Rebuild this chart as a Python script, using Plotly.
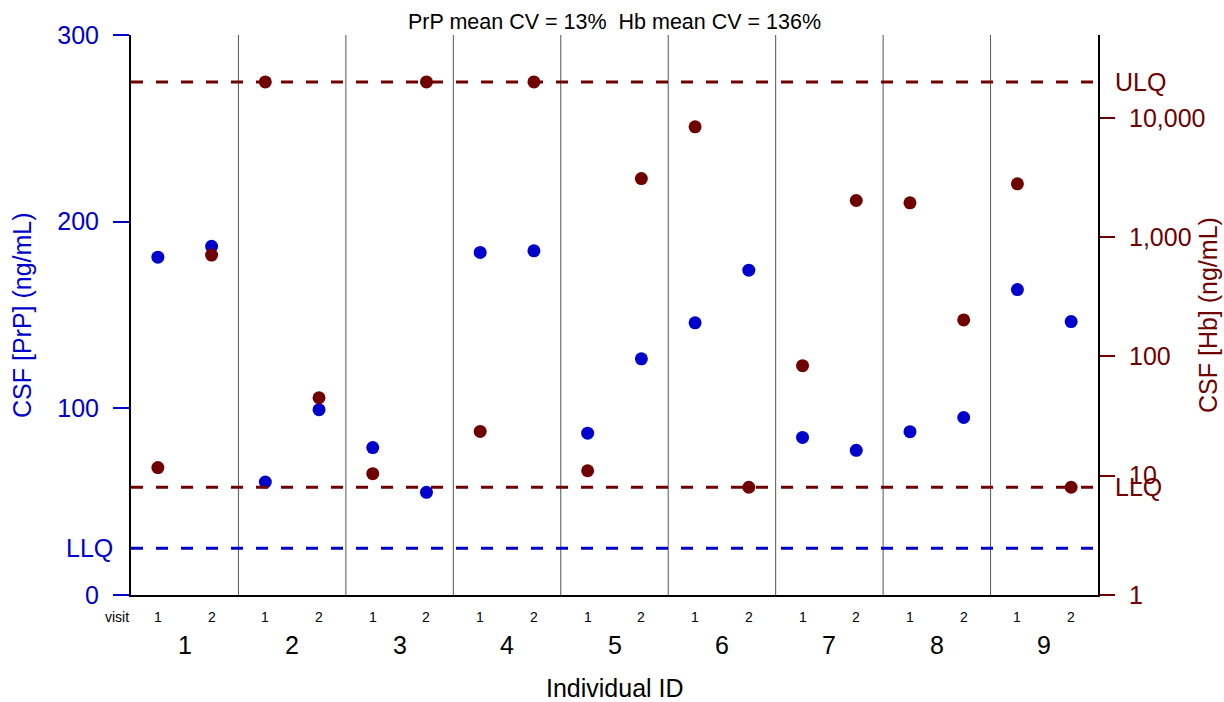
import math
import plotly.graph_objects as go

# ---- data ----
ids = [1, 2, 3, 4, 5, 6, 7, 8, 9]
visits = [1, 2]
prp_visit1 = [181, 60.5, 79, 183.5, 86.7, 145.8, 84.4, 87.5, 163.6]
prp_visit2 = [186.8, 99.3, 55, 184.4, 126.5, 174, 77.5, 95.1, 146.5]
hb_visit1 = [11.7, 20000, 10.4, 23.5, 11.0, 8400, 83.6, 1938, 2795]
hb_visit2 = [707, 45, 20000, 20000, 3097, 8, 2026, 202, 8]
prp_llq = 25
hb_llq = 8
hb_ulq = 20000
left_ticks = [0, 100, 200, 300]
right_ticks = [1, 10, 100, 1000, 10000]
right_ticktext = ["1", "10", "100", "1,000", "10,000"]
title_text = "PrP mean CV = 13%  Hb mean CV = 136%"

BLUE = "#0000CC"
RED = "#700000"
FONT = "Liberation Sans"

# x positions: individual i (0-based) -> visit1 at i+0.25, visit2 at i+0.75
x_pos = []
prp_vals = []
hb_vals = []
for i, _ in enumerate(ids):
    x_pos += [i + 0.25, i + 0.75]
    prp_vals += [prp_visit1[i], prp_visit2[i]]
    hb_vals += [hb_visit1[i], hb_visit2[i]]

fig = go.Figure()
fig.add_trace(go.Scatter(x=x_pos, y=prp_vals, mode="markers",
                         marker=dict(color=BLUE, size=13, line=dict(width=0)),
                         yaxis="y", showlegend=False))
fig.add_trace(go.Scatter(x=x_pos, y=hb_vals, mode="markers",
                         marker=dict(color=RED, size=13, line=dict(width=0)),
                         yaxis="y2", showlegend=False))

shapes = []
# separators between individuals
for i in range(1, len(ids)):
    shapes.append(dict(type="line", xref="x", yref="paper", x0=i, x1=i, y0=0, y1=1,
                       line=dict(color="#555555", width=1), layer="below"))
# reference lines
shapes.append(dict(type="line", xref="x", yref="y", x0=0, x1=len(ids), y0=prp_llq, y1=prp_llq,
                   line=dict(color=BLUE, width=3, dash="12px,13px")))
shapes.append(dict(type="line", xref="x", yref="y2", x0=0, x1=len(ids), y0=hb_llq, y1=hb_llq,
                   line=dict(color=RED, width=3, dash="12px,13px")))
shapes.append(dict(type="line", xref="x", yref="y2", x0=0, x1=len(ids), y0=hb_ulq, y1=hb_ulq,
                   line=dict(color=RED, width=3, dash="12px,13px")))

ann = []
# visit labels and individual IDs
for i, pid in enumerate(ids):
    for j, v in enumerate(visits):
        ann.append(dict(x=i + 0.25 + 0.5 * j, y=0, xref="x", yref="paper", text=str(v),
                        showarrow=False, yanchor="middle", yshift=-22,
                        font=dict(family=FONT, size=14, color="black")))
    ann.append(dict(x=i + 0.5, y=0, xref="x", yref="paper", text=str(pid),
                    showarrow=False, yanchor="middle", yshift=-50,
                    font=dict(family=FONT, size=25, color="black")))
ann.append(dict(x=0, y=0, xref="paper", yref="paper", text="visit", showarrow=False,
                xanchor="right", yanchor="middle", yshift=-22,
                font=dict(family=FONT, size=14, color="black")))
ann.append(dict(x=0.5, y=0, xref="paper", yref="paper", text="Individual ID", showarrow=False,
                yanchor="middle", yshift=-93, font=dict(family=FONT, size=25, color="black")))
ann.append(dict(x=0.5, y=1, xref="paper", yref="paper", text=title_text, showarrow=False,
                yanchor="middle", yshift=13, font=dict(family=FONT, size=21.5, color="black")))
# axis titles
ann.append(dict(x=0, y=0.5, xref="paper", yref="paper", text="CSF [PrP] (ng/mL)", showarrow=False,
                textangle=-90, xanchor="center", yanchor="middle", xshift=-109,
                font=dict(family=FONT, size=25, color=BLUE)))
ann.append(dict(x=1, y=0.5, xref="paper", yref="paper", text="CSF [Hb] (ng/mL)", showarrow=False,
                textangle=-90, xanchor="center", yanchor="middle", xshift=110,
                font=dict(family=FONT, size=25, color=RED)))
# limit labels
ann.append(dict(x=0, y=prp_llq, xref="paper", yref="y", text="LLQ", showarrow=False,
                xanchor="right", yanchor="middle", xshift=-16,
                font=dict(family=FONT, size=25, color=BLUE)))
ann.append(dict(x=1, y=math.log10(hb_llq), xref="paper", yref="y2", text="LLQ", showarrow=False,
                xanchor="left", yanchor="middle", xshift=15,
                font=dict(family=FONT, size=25, color=RED)))
ann.append(dict(x=1, y=math.log10(hb_ulq), xref="paper", yref="y2", text="ULQ",
                showarrow=False, xanchor="left", yanchor="middle", xshift=15,
                font=dict(family=FONT, size=25, color=RED)))

fig.update_layout(
    width=1224, height=702,
    margin=dict(l=131, r=126, t=35, b=107, pad=0),
    paper_bgcolor="white", plot_bgcolor="white",
    font=dict(family=FONT),
    shapes=shapes, annotations=ann,
    xaxis=dict(range=[0, len(ids)], showgrid=False, zeroline=False, showticklabels=False,
               ticks="", showline=True, linecolor="black", linewidth=2, fixedrange=True),
    yaxis=dict(range=[0, 300], tickvals=left_ticks, showgrid=False, zeroline=False,
               ticks="outside", ticklen=16, tickwidth=1.5, tickcolor=BLUE,
               tickfont=dict(family=FONT, size=25, color=BLUE), ticklabelstandoff=9,
               showline=True, linecolor="black", linewidth=2),
    yaxis2=dict(type="log", range=[0, 4.694], overlaying="y", side="right",
                tickvals=right_ticks, ticktext=right_ticktext, showgrid=False, zeroline=False,
                ticks="outside", ticklen=15, tickwidth=1.5, tickcolor=RED,
                tickfont=dict(family=FONT, size=25, color=RED), ticklabelstandoff=9,
                showline=True, linecolor="black", linewidth=2),
)

fig.write_html("out.html")
